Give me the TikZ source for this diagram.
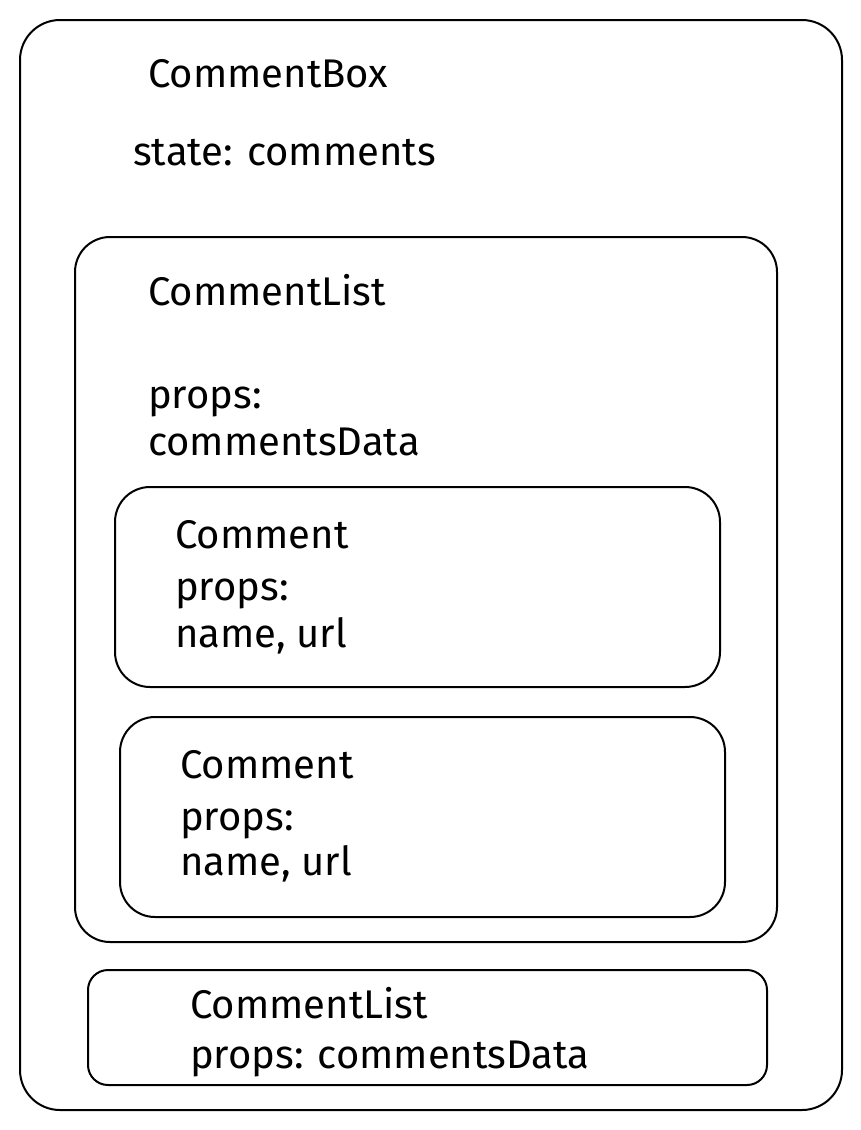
\documentclass[tikz,border=0pt]{standalone}
\usepackage{fontspec}
\setmainfont{Fira Sans}
\begin{document}
\begin{tikzpicture}[x=1pt,y=-1pt,
  box/.style={draw=black,line width=2pt},
  lbl/.style={anchor=base west,inner sep=0pt,font=\fontsize{40}{46}\selectfont}]
\useasboundingbox (0,0) rectangle (861,1130);
% boxes
\draw[box,rounded corners=40pt] (20,20) rectangle (842,1110);
\draw[box,rounded corners=35pt] (75,237) rectangle (777,942);
\draw[box,rounded corners=35pt] (115,487) rectangle (720,687);
\draw[box,rounded corners=35pt] (120,717) rectangle (725,917);
\draw[box,rounded corners=20pt] (88,970) rectangle (767,1085);
% texts
\node[lbl] (t1) at (148,87) {CommentBox};
\node[lbl] (t2) at (133,165) {state: comments};
\node[lbl] (t3) at (148,305) {CommentList};
\node[lbl] (t4) at (148,408) {props:};
\node[lbl] (t5) at (148,455) {commentsData};
\node[lbl] (t6) at (175,548) {Comment};
\node[lbl] (t7) at (175,600) {props:};
\node[lbl] (t8) at (175,647) {name, url};
\node[lbl] (t9) at (180,778) {Comment};
\node[lbl] (t10) at (180,830) {props:};
\node[lbl] (t11) at (180,875) {name, url};
\node[lbl] (t12) at (190,1018) {CommentList};
\node[lbl] (t13) at (190,1068) {props: commentsData};
\end{tikzpicture}
\end{document}
